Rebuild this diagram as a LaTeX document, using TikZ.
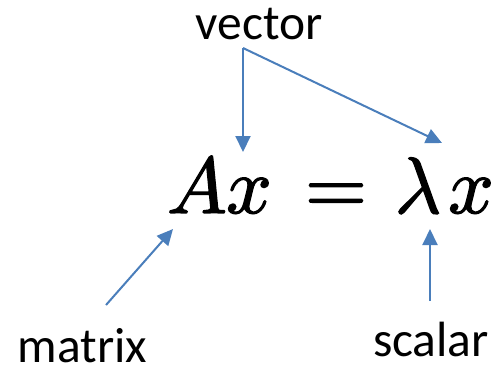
\documentclass[tikz,border=0pt]{standalone}
\usepackage{graphicx}
\usepackage[no-math]{fontspec}
\newfontfamily\labelfont{Carlito}
\usetikzlibrary{arrows.meta}
\definecolor{ablue}{RGB}{74,126,187}
\newcommand{\eqglyph}[1]{\scalebox{8}{\special{pdf:literal direct 0 0 0 RG 0.16 w 2 Tr}$#1$\special{pdf:literal direct 0 Tr}}}
\begin{document}
\begin{tikzpicture}[x=1pt,y=-1pt,
  lbl/.style={font=\labelfont\fontsize{49.5}{52}\selectfont, inner sep=0pt, anchor=base},
  eqn/.style={inner sep=0pt, anchor=base},
  arr/.style={draw=ablue, line width=2pt, -{Triangle[width=15pt,length=16pt]}}]
\useasboundingbox (0,0) rectangle (497,368);
% labels
\node[lbl] (vec) at (259,39) {vector};
\node[lbl] (mat) at (82.5,362) {matrix};
\node[lbl] (sca) at (431,356) {scalar};
% equation
\node[eqn] (A)  at (197,213) {\eqglyph{A}};
\node[eqn] (x1) at (249,213) {\eqglyph{x}};
\node[eqn] (eq) at (336,213) {\eqglyph{=}};
\node[eqn] (lam) at (418,213) {\eqglyph{\lambda}};
\node[eqn] (x2) at (471,213) {\eqglyph{x}};
% connector points
\coordinate (j) at (243,48);
\coordinate (t1) at (243,152);
\coordinate (t2) at (442,143);
\coordinate (ms) at (106,305);
\coordinate (mt) at (173,229);
\coordinate (ss) at (430,301);
\coordinate (st) at (430,229);
\draw[arr] (j) -- (t1);
\draw[arr] (j) -- (t2);
\draw[arr] (ms) -- (mt);
\draw[arr] (ss) -- (st);
\end{tikzpicture}
\end{document}
